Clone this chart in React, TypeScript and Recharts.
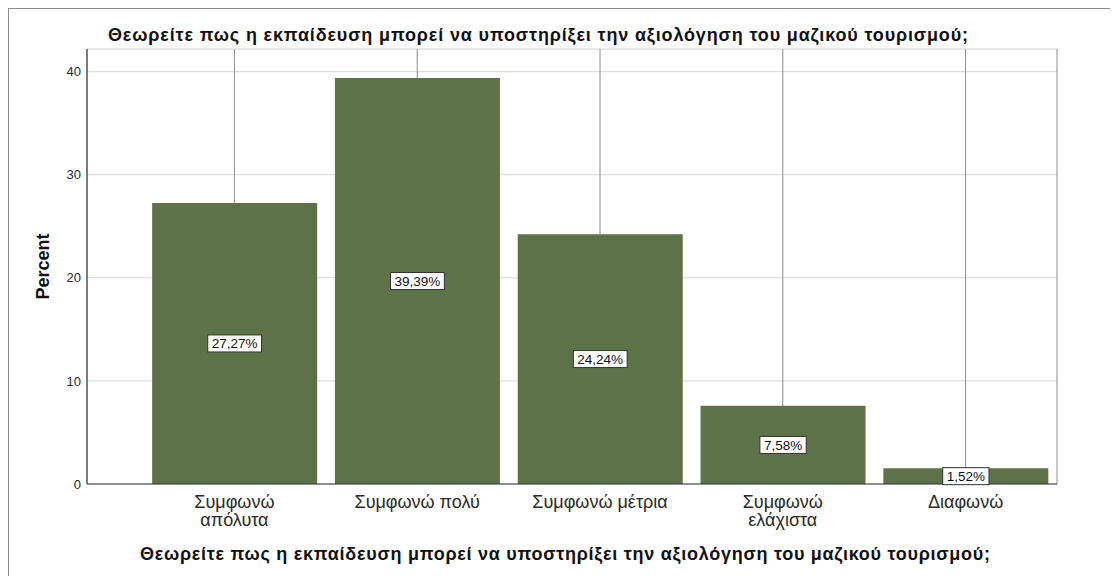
import React from "react";
import { Bar, BarChart, CartesianGrid, LabelList, XAxis, YAxis } from "recharts";

const categories = ["Συμφωνώ\nαπόλυτα", "Συμφωνώ πολύ", "Συμφωνώ μέτρια", "Συμφωνώ\nελάχιστα", "Διαφωνώ"];
const percents = [27.27, 39.39, 24.24, 7.58, 1.52];
const yTicks = [0, 10, 20, 30, 40];
const title = "Θεωρείτε πως η εκπαίδευση μπορεί να υποστηρίξει την αξιολόγηση του μαζικού τουρισμού;";

const data = categories.map((name, i) => ({ name, value: percents[i] }));

const FONT = "Arial, 'Liberation Sans', sans-serif";

function CategoryTick({ x, y, payload }: any) {
  const lines = String(payload.value).split("\n");
  return (
    <text x={x} y={y} textAnchor="middle" fontFamily={FONT} fontSize={18} fill="#2a2a2a">
      {lines.map((line, i) => (
        <tspan key={i} x={x} dy={i === 0 ? 16 : 18}>
          {line}
        </tspan>
      ))}
    </text>
  );
}

// rough Arial advance widths, used to size the white box around the value
const charWidth = (c: string) => (c === "," ? 0.278 : c === "%" ? 0.889 : 0.556);

function ValueBox(props: any) {
  const { x, y, width, height, value } = props;
  const cx = x + width / 2;
  const cy = y + height / 2;
  const text = value.toFixed(2).replace(".", ",") + "%";
  const size = 13.5;
  const w = text.split("").reduce((s, c) => s + charWidth(c), 0) * size + 8;
  return (
    <g>
      <rect x={cx - w / 2} y={cy - 8.5} width={w} height={17} fill="#ffffff" stroke="#333" strokeWidth={1} />
      <text x={cx} y={cy + 5} textAnchor="middle" fontFamily={FONT} fontSize={size} fill="#111">
        {text}
      </text>
    </g>
  );
}

export default function App() {
  return (
    <div
      style={{
        position: "relative",
        width: 1109,
        height: 567,
        borderTop: "1px solid #8a8a8a",
        borderLeft: "1px solid #8a8a8a",
      }}
    >
      <svg style={{ position: "absolute", left: 0, top: 0, pointerEvents: "none" }} width={1109} height={567}>
        <text
          x={529}
          y={32}
          textAnchor="middle"
          fontFamily={FONT}
          fontWeight="bold"
          fontSize={18}
          fill="#111"
          textLength={860}
          lengthAdjust="spacing"
        >
          {title}
        </text>
        <text
          x={556}
          y={551}
          textAnchor="middle"
          fontFamily={FONT}
          fontWeight="bold"
          fontSize={18}
          fill="#111"
          textLength={850}
          lengthAdjust="spacing"
        >
          {title}
        </text>
      </svg>
      <BarChart
        width={1109}
        height={567}
        data={data}
        margin={{ top: 40, right: 61, bottom: 0, left: 38 }}
        barCategoryGap="5%"
      >
        <CartesianGrid horizontal vertical={false} stroke="#d6d6d6" />
        <CartesianGrid horizontal={false} vertical stroke="#8c8c8c" />
        <XAxis
          dataKey="name"
          padding={{ left: 56, right: 0 }}
          height={92}
          tickLine={false}
          axisLine={{ stroke: "#333" }}
          tick={<CategoryTick />}
          interval={0}
        />
        <XAxis xAxisId="top" dataKey="name" orientation="top" height={0} tick={false} tickLine={false} axisLine={{ stroke: "#333" }} />
        <YAxis
          domain={[0, 42.2]}
          ticks={yTicks}
          width={40}
          tickLine={false}
          axisLine={{ stroke: "#333" }}
          tick={{ fontFamily: FONT, fontSize: 13, fill: "#2a2a2a" }}
          tickMargin={0}
          label={{
            value: "Percent",
            angle: -90,
            position: "insideLeft",
            offset: -4,
            style: { fontFamily: FONT, fontSize: 18, fontWeight: "bold", fill: "#111", textAnchor: "middle" },
          }}
        />
        <YAxis yAxisId="right" orientation="right" width={0} tick={false} tickLine={false} axisLine={{ stroke: "#333" }} />
        <Bar dataKey="value" fill="#5e7249" isAnimationActive={false}>
          <LabelList dataKey="value" content={<ValueBox />} />
        </Bar>
      </BarChart>
    </div>
  );
}
